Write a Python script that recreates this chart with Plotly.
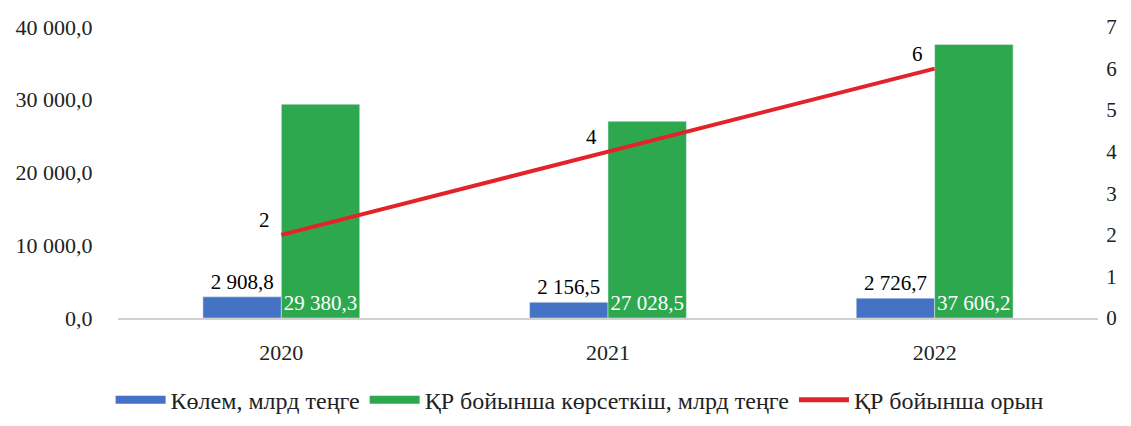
import plotly.graph_objects as go

years = ["2020", "2021", "2022"]
volume = [2908.8, 2156.5, 2726.7]
kz_total = [29380.3, 27028.5, 37606.2]
kz_rank = [2, 4, 6]

names = ["Көлем, млрд теңге", "ҚР бойынша көрсеткіш, млрд теңге", "ҚР бойынша орын"]
colors = ["#4472C4", "#2EA84F", "#E3232A"]

FONT = "Liberation Serif"
TXT = "#222222"
FS = 21
FT = 22

fig = go.Figure()
fig.add_trace(go.Bar(
    x=years, y=volume, name=names[0], marker_color=colors[0], showlegend=False,
    texttemplate="%{y:,.1f}", textposition="outside", constraintext="none",
    textfont=dict(color="#000000", size=FS, family=FONT), cliponaxis=False,
))
fig.add_trace(go.Bar(
    x=years, y=kz_total, name=names[1], marker_color=colors[1], showlegend=False,
    texttemplate="%{y:,.1f}", textposition="inside", insidetextanchor="start",
    constraintext="none",
    textfont=dict(color="#ffffff", size=FS, family=FONT), textangle=0,
))
fig.add_trace(go.Scatter(
    x=years, y=kz_rank, name=names[2], yaxis="y2", mode="lines", showlegend=False,
    line=dict(color=colors[2], width=4), cliponaxis=False,
))
# category axis: annotation positions use category index
for i, rk in enumerate(kz_rank):
    fig.add_annotation(x=i, y=rk, xref="x", yref="y2", text=str(rk), showarrow=False,
                       xshift=-17, yshift=15,
                       font=dict(color="#000000", size=FS, family=FONT))

# legend entries (wide rectangle swatches)
for nm, c, w in zip(names, colors, [8, 8, 5]):
    fig.add_trace(go.Scatter(x=[years[0]], y=[None], mode="lines", name=nm,
                             line=dict(color=c, width=w)))

fig.update_layout(
    width=1123, height=418,
    paper_bgcolor="white", plot_bgcolor="white",
    separators=", ",
    font=dict(family=FONT, size=FS, color=TXT),
    margin=dict(l=110, r=33, t=19, b=108, autoexpand=False),
    barmode="group", bargap=0.52, bargroupgap=0,
    showlegend=True,
    legend=dict(orientation="h", x=0.509, xanchor="center", xref="container",
                y=0.062, yanchor="middle", yref="container",
                font=dict(size=24, family=FONT, color=TXT), itemwidth=50,
                traceorder="normal"),
    xaxis=dict(type="category", showline=True, linecolor="#d0d0d0", linewidth=1.5,
               showgrid=False, ticks="outside", ticklen=14, tickcolor="rgba(0,0,0,0)",
               tickfont=dict(size=FT, family=FONT), automargin=False),
    yaxis=dict(range=[0, 40000], dtick=10000, tickformat=",.1f", showgrid=False,
               zeroline=False, ticks="outside", ticklen=20, tickcolor="rgba(0,0,0,0)",
               tickfont=dict(size=FT, family=FONT), automargin=False),
    yaxis2=dict(range=[0, 7], dtick=1, overlaying="y", side="right", showgrid=False,
                zeroline=False, ticks="outside", ticklen=3, tickcolor="rgba(0,0,0,0)",
                tickfont=dict(size=FS, family=FONT), automargin=False),
)

fig.write_html("out.html")
